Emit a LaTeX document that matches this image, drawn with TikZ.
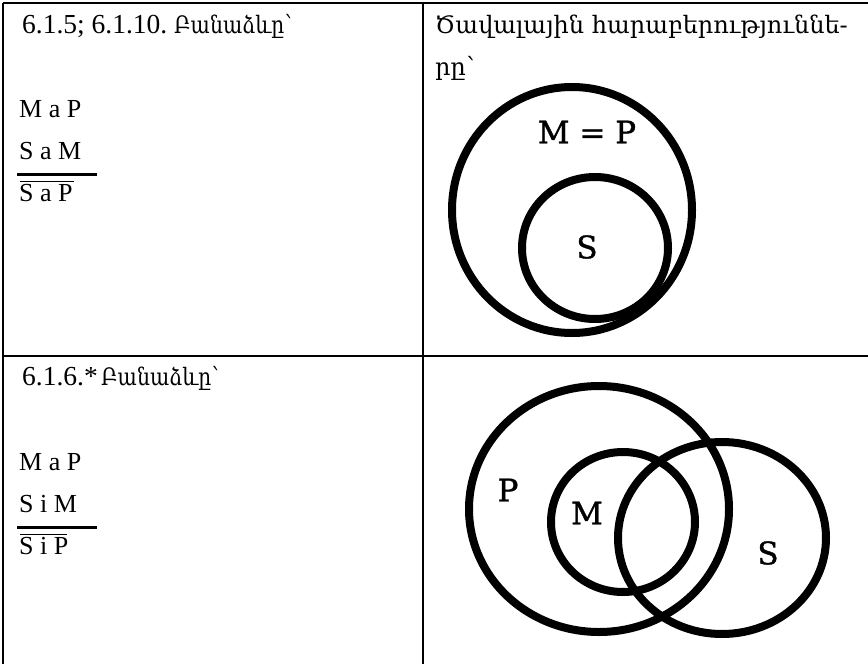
\documentclass[tikz,border=0pt]{standalone}
\usepackage{fontspec}
\setmainfont{Liberation Serif}
\newfontfamily\armfont{DejaVu Serif}
\newfontfamily\lblfont[FakeBold=1.2]{DejaVu Serif}
\begin{document}
\begin{tikzpicture}[x=1pt,y=-1pt,
  txt/.style={anchor=base west,inner sep=0pt,font=\fontsize{26}{30}\selectfont},
  head/.style={anchor=base west,inner sep=0pt,font=\fontsize{27.5}{30}\selectfont},
  armh/.style={anchor=base west,inner sep=0pt,font=\armfont\fontsize{24}{28}\selectfont,xscale=0.85,transform shape},
  arm/.style={anchor=base west,inner sep=0pt,font=\armfont\fontsize{24}{28}\selectfont},
  lbl/.style={inner sep=0pt,font=\lblfont\fontsize{31}{36}\selectfont},
  grid/.style={line width=2pt},
  ring/.style={line width=8pt},
  rule/.style={line width=3pt},
  over/.style={line width=1pt}]
\useasboundingbox (0,0) rectangle (868,664);
% table lines
\draw[grid] (3,3) -- (868,3);
\draw[grid] (3,3) -- (3,664);
\draw[grid] (423,3) -- (423,664);
\draw[grid] (3,356) -- (868,356);
% top-left cell
\node[head] (h1) at (22,33) {6.1.5; 6.1.10.};
\node[armh] (h1a) at (174,33) {Բանաձևը՝};
\node[txt] (p1) at (19,117) {M a P};
\node[txt] (p2) at (19,159) {S a M};
\draw[rule] (17,174) -- (97,174);
\draw[over] (20,181) -- (74,181);
\node[txt] (c1) at (19,201) {S a P};
% top-right cell
\node[arm] (h2) at (435,33) {Ծավալային հարաբերություննե-};
\node[arm] (h3) at (435,75) {րը՝};
\draw[ring] (572,210) ellipse [x radius=120,y radius=123];
\draw[ring] (595,248) ellipse [x radius=73,y radius=71];
\node[lbl] (mp) at (587,132) {M = P};
\node[lbl] (s1) at (587,247) {S};
% bottom-left cell
\node[head] (h4) at (22,385) {6.1.6.*};
\node[armh] (h4a) at (101,385) {Բանաձևը՝};
\node[txt] (q1) at (19,470) {M a P};
\node[txt] (q2) at (19,512) {S i M};
\draw[rule] (17,527) -- (97,527);
\draw[over] (20,534) -- (67,534);
\node[txt] (c2) at (19,554) {S i P};
% bottom-right cell
\draw[ring] (599,509) ellipse [x radius=130,y radius=123];
\draw[ring] (623,522) ellipse [x radius=72,y radius=70];
\draw[ring] (722,538) ellipse [x radius=104,y radius=96];
\node[lbl] (lp) at (508,490) {P};
\node[lbl] (lm) at (587,513) {M};
\node[lbl] (ls) at (768,553) {S};
\end{tikzpicture}
\end{document}
